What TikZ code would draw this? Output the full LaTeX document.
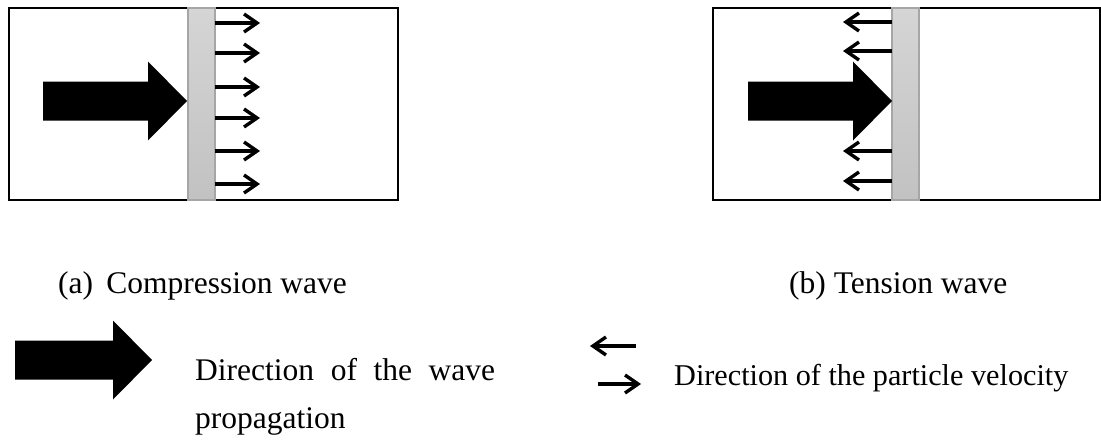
\documentclass[tikz,border=0pt]{standalone}
\usepackage{fontspec}
\setmainfont{Liberation Serif}
\usetikzlibrary{arrows.meta}

\begin{document}
\begin{tikzpicture}[
  x=1pt, y=-1pt,
  frame/.style={draw=black, line width=2.6pt},
  front/.style={draw=gray!70, line width=1.2pt, top color=gray!33, bottom color=gray!48},
  vel/.style={line width=3.4pt, -{Straight Barb[length=13pt, width=18pt]}},
  caption/.style={font=\fontsize{31.5}{38}\selectfont, inner sep=0pt, anchor=base west},
  bigarrow/.pic={\fill[black] (0,0) -- (-39,-39.5) -- (-39,-19.5) -- (-#1,-19.5)
    -- (-#1,19.5) -- (-39,19.5) -- (-39,39.5) -- cycle;},
]
\useasboundingbox (0,0) rectangle (1101,447);

% (a) compression wave
\draw[frame] (9,8) rectangle (398,200);
\draw[front] (188,8) rectangle (215,200);
\pic at (187,101) {bigarrow=144};
\foreach \y in {23,53,87,118,151,184}
  \draw[vel] (215,\y) -- (260,\y);
\node[caption] (capa) at (58,293) {(a)\ \,Compression wave};

% (b) tension wave
\draw[frame] (713,8) rectangle (1100,200);
\draw[front] (892,8) rectangle (919,200);
\pic at (892,101) {bigarrow=144};
\foreach \y in {22,51,151,181}
  \draw[vel] (892,\y) -- (843,\y);
\node[caption] (capb) at (789,293) {(b) Tension wave};

% legend
\pic at (152,360) {bigarrow=137};
\node[caption] (wavedir) at (195,380)
  {\makebox[300pt][s]{Direction of the wave}};
\node[caption] (wavedir2) at (195,428) {propagation};
\coordinate (l1) at (636,346);
\coordinate (l2) at (598,384);
\draw[vel] (l1) -- ++(-46,0);
\draw[vel] (l2) -- ++(43,0);
\node[caption, font=\fontsize{30.2}{36}\selectfont] (veldir) at (674,385)
  {Direction of the particle velocity};
\end{tikzpicture}
\end{document}
